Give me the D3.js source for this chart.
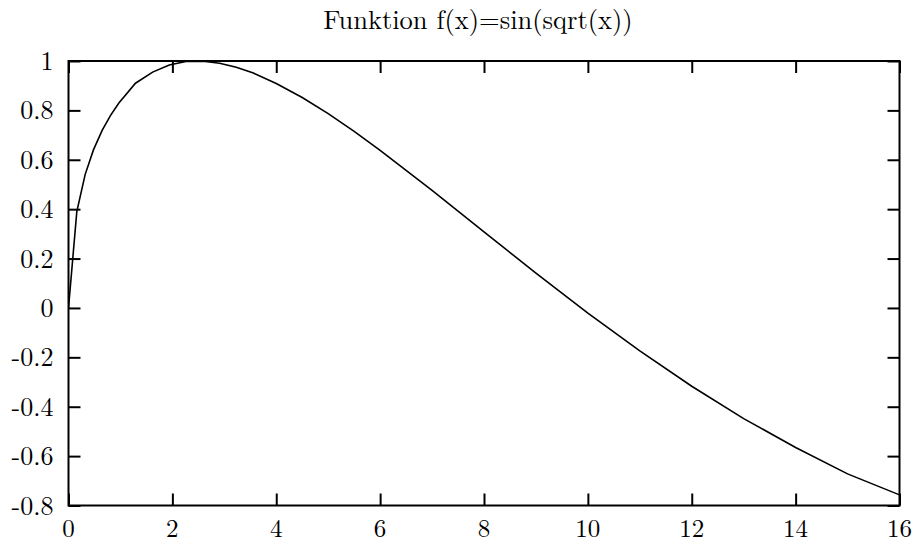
<!DOCTYPE html>
<html>
<head>
<meta charset="utf-8">
<script src="https://cdn.jsdelivr.net/npm/d3@7"></script>
<style>
  body { margin: 0; background: #fff; }
</style>
</head>
<body>
<svg width="918" height="544"></svg>
<script>
const width = 918;
const height = 544;

// values
const xValues = [0, 0.16, 0.32, 0.48, 0.65, 0.81, 0.97, 1.29, 1.62, 1.94, 2.26, 2.59, 2.91, 3.23, 3.56,
    4, 4.5, 5, 5.5, 6, 7, 8, 9, 10, 11, 12, 13, 14, 15, 16];
const yValues = [0, 0.39, 0.54, 0.64, 0.72, 0.78, 0.83, 0.91, 0.955, 0.984, 0.998, 0.999, 0.991, 0.975, 0.951,
    0.909, 0.852, 0.787, 0.715, 0.638, 0.476, 0.308, 0.141, -0.021, -0.174, -0.317, -0.448, -0.565, -0.672, -0.757];
const xTicks = [0, 2, 4, 6, 8, 10, 12, 14, 16];
const yTicks = [-0.8, -0.6, -0.4, -0.2, 0, 0.2, 0.4, 0.6, 0.8, 1];
const title = "Funktion f(x)=sin(sqrt(x))";

const plotLeft = 68.5, plotRight = 899.5, plotTop = 61, plotBottom = 505.5;

const xScale = d3.scaleLinear().domain([0, 16]).range([plotLeft, plotRight]);
const yScale = d3.scaleLinear().domain([-0.8, 1]).range([plotBottom, plotTop]);

const svg = d3.select("svg");
const font = "Latin Modern Roman, Liberation Serif, serif";
const fontSize = 26;
const tickLen = 12;

// title
svg.append("text")
    .attr("x", 478)
    .attr("y", 29)
    .attr("text-anchor", "middle")
    .attr("font-family", font)
    .attr("font-size", 26.5)
    .text(title);

// axes (ticks on all four sides, like gnuplot mirror)
const axisStyle = g => {
    g.select(".domain").remove();
    g.selectAll("line").attr("stroke", "#000").attr("stroke-width", 2);
};

svg.append("g")
    .attr("transform", `translate(0,${plotBottom})`)
    .call(d3.axisTop(xScale).tickValues(xTicks).tickSize(tickLen).tickFormat(""))
    .call(axisStyle);
svg.append("g")
    .attr("transform", `translate(0,${plotTop})`)
    .call(d3.axisBottom(xScale).tickValues(xTicks).tickSize(tickLen).tickFormat(""))
    .call(axisStyle);
svg.append("g")
    .attr("transform", `translate(${plotLeft},0)`)
    .call(d3.axisRight(yScale).tickValues(yTicks).tickSize(tickLen).tickFormat(""))
    .call(axisStyle);
svg.append("g")
    .attr("transform", `translate(${plotRight},0)`)
    .call(d3.axisLeft(yScale).tickValues(yTicks).tickSize(tickLen).tickFormat(""))
    .call(axisStyle);

// tick labels
svg.append("g").selectAll("text")
    .data(xTicks)
    .enter().append("text")
    .attr("x", d => xScale(d))
    .attr("y", 537)
    .attr("text-anchor", "middle")
    .attr("font-family", font)
    .attr("font-size", 25)
    .text(d => d);

svg.append("g").selectAll("text")
    .data(yTicks)
    .enter().append("text")
    .attr("x", 53.5)
    .attr("y", d => yScale(d) + 9)
    .attr("text-anchor", "end")
    .attr("font-family", font)
    .attr("font-size", fontSize)
    .text(d => String(+d.toFixed(1)));

// the curve
const line = d3.line()
    .x((d, i) => xScale(xValues[i]))
    .y(d => yScale(d));

svg.append("defs").append("clipPath")
    .attr("id", "clip")
    .append("rect")
    .attr("x", plotLeft).attr("y", plotTop)
    .attr("width", plotRight - plotLeft).attr("height", plotBottom - plotTop);

svg.append("path")
    .datum(yValues)
    .attr("clip-path", "url(#clip)")
    .attr("fill", "none")
    .attr("stroke", "#000")
    .attr("stroke-width", 1.6)
    .attr("d", line);

// frame
svg.append("rect")
    .attr("x", plotLeft).attr("y", plotTop)
    .attr("width", plotRight - plotLeft).attr("height", plotBottom - plotTop)
    .attr("fill", "none")
    .attr("stroke", "#000")
    .attr("stroke-width", 2);
</script>
</body>
</html>
